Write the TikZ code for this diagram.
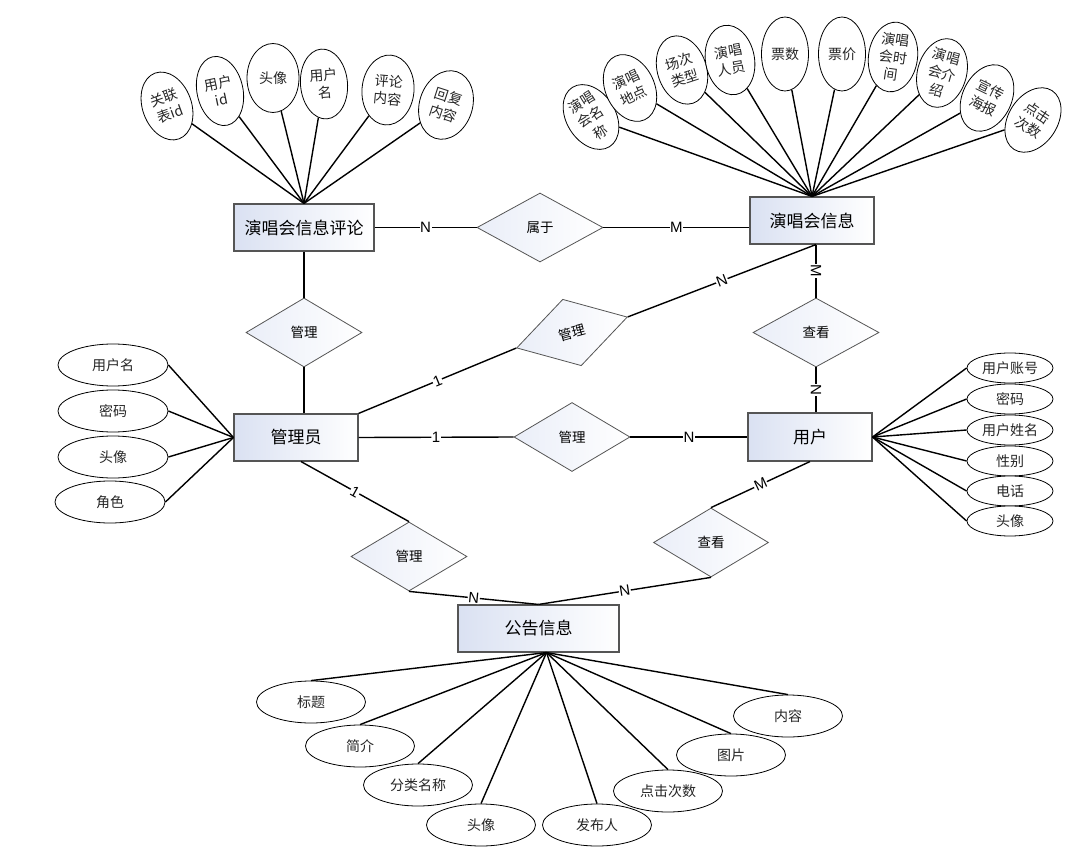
\documentclass[tikz,border=0pt]{standalone}
\usepackage{fontspec}
\setmainfont{Noto Sans CJK SC}
\newfontfamily\latinfont{Liberation Sans}
\usetikzlibrary{shapes.geometric,calc}
\definecolor{entblue}{RGB}{218,225,242}
\definecolor{dmdblue}{RGB}{234,238,248}
\definecolor{edgegray}{RGB}{85,85,85}
\begin{document}
\begin{tikzpicture}[x=1pt,y=-1pt,
 entity/.style={draw=edgegray, line width=1.1pt, left color=entblue, right color=white, minimum height=47pt, inner sep=0pt, font=\fontsize{17}{20}\selectfont},
 rel/.style={diamond, draw=edgegray, line width=0.8pt, left color=dmdblue, right color=white, inner sep=0pt, minimum width=116pt, minimum height=69pt, font=\fontsize{13.5}{16}\selectfont},
 attr/.style={ellipse, draw=black, line width=0.8pt, fill=white, inner sep=0pt, align=center, text=black!85, font=\fontsize{14}{17.5}\selectfont},
 vattr/.style={attr, minimum width=49pt, minimum height=70pt},
 hattr/.style={attr, minimum width=109pt, minimum height=42pt},
 sattr/.style={attr, minimum width=86pt, minimum height=30pt},
 conn/.style={line width=1.4pt, black},
 card/.style={fill=white, inner sep=0.6pt, font=\latinfont\fontsize{15}{16}\selectfont, sloped, midway}
]
\useasboundingbox (0,0) rectangle (1077,861);
\fill[white] (0,0) rectangle (1077,861);

% entities
\node[entity, minimum width=140pt] (cmt) at (304,227.5) {演唱会信息评论};
\node[entity, minimum width=124pt] (info) at (812,220.5) {演唱会信息};
\node[entity, minimum width=124pt] (admin) at (296,437.5) {管理员};
\node[entity, minimum width=124pt, minimum height=48pt] (user) at (810,437) {用户};
\node[entity, minimum width=161pt] (gg) at (538.5,628.5) {公告信息};

% relationships
\node[rel, minimum width=126pt] (shu) at (540,227.5) {属于};
\node[rel] (mg1) at (304,332.5) {管理};
\node[rel, minimum width=115pt, rotate=15.6] (mg2) at (572,332.5) {管理};
\node[rel, minimum width=126pt] (ck1) at (816,332.5) {查看};
\node[rel] (mg3) at (572,437) {管理};
\node[rel] (mg4) at (409,556.5) {管理};
\node[rel, minimum width=115pt] (ck2) at (711,542.5) {查看};

% relationship connectors
\draw[conn] (cmt.east) -- node[card]{N} (shu.west);
\draw[conn] (shu.east) -- node[card]{M} (shu.east -| info.west);
\draw[conn] (cmt.south) -- (mg1.north);
\draw[conn] (mg1.south) -- (mg1.south |- admin.north);
\draw[conn] (admin.north east) -- node[card]{1} (mg2.west);
\draw[conn] (mg2.east) -- node[card]{N} (ck1.north |- info.south);
\draw[conn] (ck1.north |- info.south) -- node[card]{M} (ck1.north);
\draw[conn] (ck1.south) -- node[card]{N} (ck1.south |- user.north);
\draw[conn] (admin.east) -- node[card]{1} (mg3.west);
\draw[conn] (mg3.east) -- node[card]{N} (user.west);
\coordinate (adminS) at ($(admin.south)+(5,0)$);
\draw[conn] (adminS) -- node[card]{1} (mg4.north);
\draw[conn] (mg4.south) -- node[card]{N} (gg.north);
\draw[conn] (gg.north) -- node[card]{N} (ck2.south);
\draw[conn] (ck2.north) -- node[card]{M} (user.south);

% comment attributes
\node[vattr, rotate=20] (c1) at (167,106) {关联\\表id};
\node[vattr, minimum width=46pt, rotate=12] (c2) at (220,91) {用户\\id};
\node[vattr, minimum width=52pt, minimum height=69pt] (c3) at (273,78) {头像};
\node[vattr, minimum width=47pt, rotate=5] (c4) at (324,84) {用户\\名};
\node[vattr, minimum width=52pt, rotate=-5] (c5) at (388,90) {评论\\内容};
\node[vattr, minimum width=53pt, rotate=-18] (c6) at (446,105) {回复\\内容};
\foreach \n in {c1,c2,c3,c4,c5,c6} \draw[conn] (\n) -- (cmt.north);

% concert attributes
\node[vattr, rotate=32] (i1) at (591,117) {演唱\\会名\\称};
\node[vattr, rotate=25] (i2) at (630,88) {演唱\\地点};
\node[vattr, rotate=18] (i3) at (682,70) {场次\\类型};
\node[vattr, rotate=10] (i4) at (730,60) {演唱\\人员};
\node[vattr, minimum width=47pt, minimum height=74pt] (i5) at (785,54) {票数};
\node[vattr, minimum width=47pt, minimum height=74pt] (i6) at (842,54) {票价};
\node[vattr, rotate=-8] (i7) at (893,57) {演唱\\会时\\间};
\node[vattr, rotate=-16] (i8) at (942,73) {演唱\\会介\\绍};
\node[vattr, rotate=-26] (i9) at (987,98) {宣传\\海报};
\node[vattr, rotate=-33] (i10) at (1033,120) {点击\\次数};
\foreach \n in {i1,i2,i3,i4,i5,i6,i7,i8,i9,i10} \draw[conn] (\n) -- (info.north);

% admin attributes
\node[hattr, minimum width=110pt] (a1) at (113,365) {用户名};
\node[hattr, minimum width=110pt] (a2) at (113,411) {密码};
\node[hattr, minimum width=110pt] (a3) at (113,457) {头像};
\node[hattr, minimum width=110pt] (a4) at (110,502) {角色};
\foreach \n in {a1,a2,a3,a4} \draw[conn] (\n.east) -- (admin.west);

% user attributes
\node[sattr] (u1) at (1010,368) {用户账号};
\node[sattr] (u2) at (1010,399) {密码};
\node[sattr] (u3) at (1010,430) {用户姓名};
\node[sattr] (u4) at (1010,461) {性别};
\node[sattr] (u5) at (1010,491) {电话};
\node[sattr] (u6) at (1010,521) {头像};
\foreach \n in {u1,u2,u3,u4,u5,u6} \draw[conn] (\n.west) -- (user.east);

% notice attributes
\coordinate (ggb) at ($(gg.south)+(8,0)$);
\node[hattr] (g1) at (311,702) {标题};
\node[hattr] (g2) at (360,746) {简介};
\node[hattr] (g3) at (418,785) {分类名称};
\node[hattr] (g4) at (481,825) {头像};
\node[hattr] (g5) at (597,825) {发布人};
\node[hattr] (g6) at (668,791) {点击次数};
\node[hattr] (g7) at (731,755) {图片};
\node[hattr] (g8) at (788,716) {内容};
\foreach \n in {g1,g2,g3,g4,g5,g6,g7,g8} \draw[conn] (\n.north) -- (ggb);
\end{tikzpicture}
\end{document}
